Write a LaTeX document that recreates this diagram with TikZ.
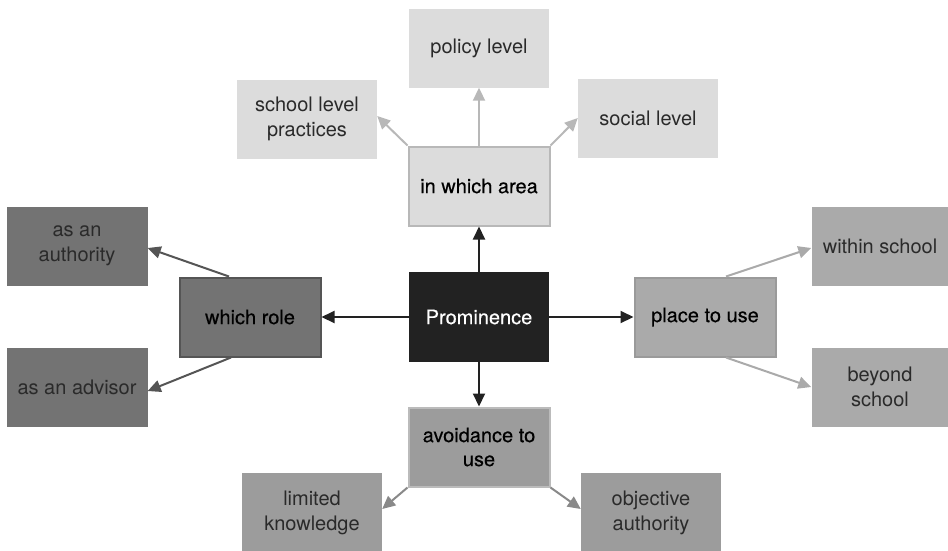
\documentclass[tikz,border=0pt]{standalone}
\usepackage{fontspec}
\setmainfont{TeX Gyre Heros}
\newfontfamily\medfont[FakeBold=0.35]{TeX Gyre Heros}
\usetikzlibrary{arrows.meta}
\definecolor{hubfill}{HTML}{222222}
\definecolor{areafill}{HTML}{DCDCDC}
\definecolor{areaedge}{HTML}{B8B8B8}
\definecolor{rolefill}{HTML}{737373}
\definecolor{roleedge}{HTML}{555555}
\definecolor{placefill}{HTML}{AAAAAA}
\definecolor{placeedge}{HTML}{9A9A9A}
\definecolor{avoidfill}{HTML}{9C9C9C}
\definecolor{avoidedge}{HTML}{BBBBBB}
\definecolor{leaftext}{HTML}{2A2A2A}
\tikzset{
  box/.style={rectangle, inner sep=0pt, minimum width=140pt, minimum height=79pt,
    align=center, font=\fontsize{20}{25}\selectfont},
  hub/.style={box, fill=hubfill, text=white, minimum height=90pt,
    font=\medfont\fontsize{20}{25}\selectfont},
  branch/.style={box, line width=2pt, text=black, minimum width=141pt, minimum height=79pt,
    font=\medfont\fontsize{20}{24}\selectfont},
  leaf/.style={box, text=leaftext},
  link/.style={line width=2pt, -{Triangle[length=13pt,width=12pt]}},
}
\begin{document}
\begin{tikzpicture}[x=1pt,y=-1pt]
\useasboundingbox (0,0) rectangle (948,550);
\clip (0,0) rectangle (948,550);

% centre
\node[hub] (hub) at (479,317) {Prominence};

% first ring
\node[branch, fill=areafill, draw=areaedge] (area) at (479,186) {in which area};
\node[branch, fill=rolefill, draw=roleedge] (role) at (250,317) {which role};
\node[branch, fill=placefill, draw=placeedge] (place) at (705,317) {place to use};
\node[branch, fill=avoidfill, draw=avoidedge] (avoid) at (479,447) {avoidance to\\use};

% leaves
\node[leaf, fill=areafill] (policy) at (479,48) {policy level};
\node[leaf, fill=areafill] (school) at (307,119) {school level\\practices};
\node[leaf, fill=areafill] (social) at (648,118) {social level};
\node[leaf, fill=rolefill, minimum width=141pt] (authority) at (77,246) {as an\\authority};
\node[leaf, fill=rolefill, minimum width=141pt] (advisor) at (77,387) {as an advisor};
\node[leaf, fill=placefill, minimum width=137pt] (within) at (880,246) {within school};
\node[leaf, fill=placefill, minimum width=137pt] (beyond) at (880,387) {beyond\\school};
\node[leaf, fill=avoidfill, minimum height=80pt] (limited) at (312,513) {limited\\knowledge};
\node[leaf, fill=avoidfill, minimum height=80pt] (objective) at (651,513) {objective\\authority};

% connectors from the centre
\draw[link, hubfill] (hub.north) -- (area.south);
\draw[link, hubfill] (hub.west) -- (role.east);
\draw[link, hubfill] (hub.east) -- (place.west);
\draw[link, hubfill] (hub.south) -- (avoid.north);

% connectors to the leaves
\draw[link, areaedge] (area.north) -- (policy.south);
\draw[link, areaedge] (area.north west) -- ([yshift=3pt]school.east);
\draw[link, areaedge] (area.north east) -- (social.west);
\draw[link, roleedge] ([xshift=-21pt]role.north) -- ([yshift=-2pt]authority.east);
\draw[link, roleedge] ([xshift=-19pt]role.south) -- ([yshift=-4pt]advisor.east);
\draw[link, placefill] ([xshift=21pt]place.north) -- ([yshift=-2pt]within.west);
\draw[link, placefill] ([xshift=21pt]place.south) -- (beyond.west);
\draw[link, avoidfill!88!black] (avoid.south west) -- ([yshift=4pt]limited.east);
\draw[link, avoidfill!88!black] (avoid.south east) -- ([yshift=4pt]objective.west);
\end{tikzpicture}
\end{document}
